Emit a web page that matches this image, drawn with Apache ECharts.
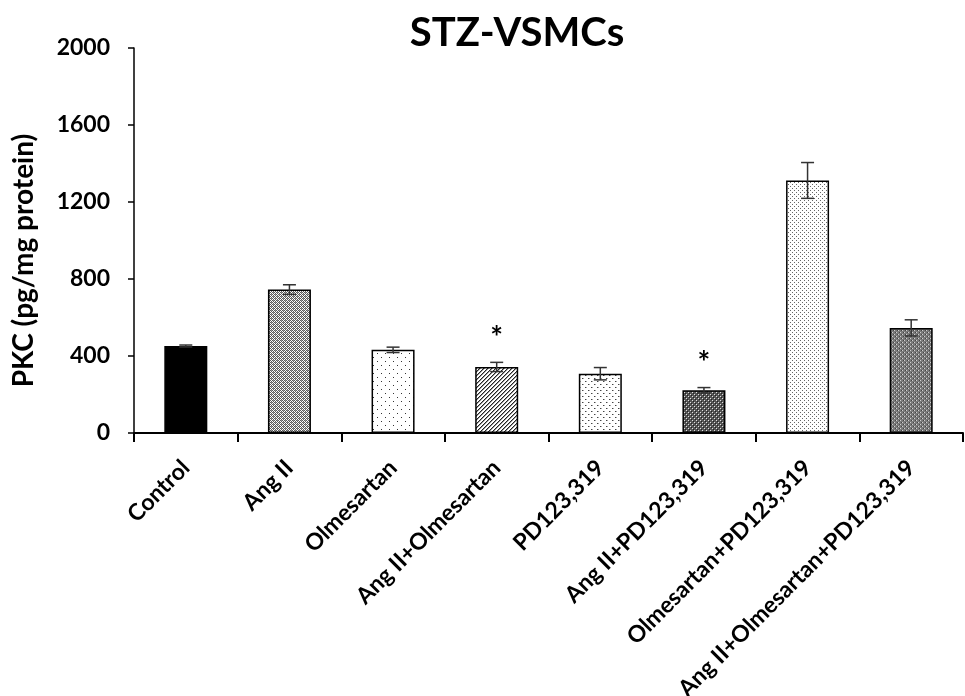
<!DOCTYPE html>
<html>
<head>
<meta charset="utf-8">
<script src="https://cdn.jsdelivr.net/npm/echarts@6/dist/echarts.min.js"></script>
<style>
html,body{margin:0;padding:0;background:#fff;}
#chart{width:965px;height:696px;}
</style>
</head>
<body>
<div id="chart"></div>
<script>
const categories = ['Control', 'Ang II', 'Olmesartan', 'Ang II+Olmesartan', 'PD123,319', 'Ang II+PD123,319', 'Olmesartan+PD123,319', 'Ang II+Olmesartan+PD123,319'];
const means = [452, 745, 432, 343, 308, 222, 1312, 546];
const errors = [5, 25, 14, 24, 32, 14, 93, 42];
const significance = ['', '', '', '*', '', '*', '', ''];
const yTicks = [0, 400, 800, 1200, 1600, 2000];

const FONT = 'Lato';

function pattern(size, draw) {
  const c = document.createElement('canvas');
  c.width = size; c.height = size;
  const ctx = c.getContext('2d');
  draw(ctx, size);
  return { image: c, repeat: 'repeat' };
}
function px(ctx, x, y, col) { ctx.fillStyle = col; ctx.fillRect(x, y, 1, 1); }

const fills = [
  '#000000',
  pattern(4, (ctx) => {
    ctx.fillStyle = '#ffffff'; ctx.fillRect(0, 0, 4, 4);
    ctx.fillStyle = '#5a5a5a';
    ctx.fillRect(0, 0, 1, 1); ctx.fillRect(2, 0, 1, 1); ctx.fillRect(1, 1, 1, 1); ctx.fillRect(3, 1, 1, 1);
    ctx.fillRect(0, 2, 1, 1); ctx.fillRect(2, 2, 1, 1); ctx.fillRect(1, 3, 1, 1); ctx.fillRect(3, 3, 1, 1);
    ctx.fillStyle = '#9a9a9a'; ctx.fillRect(1, 0, 1, 1); ctx.fillRect(3, 2, 1, 1);
  }),
  pattern(8, (ctx) => {
    ctx.fillStyle = '#ffffff'; ctx.fillRect(0, 0, 8, 8);
    px(ctx, 1, 1, '#333'); px(ctx, 5, 5, '#333');
  }),
  pattern(4, (ctx) => {
    ctx.fillStyle = '#ffffff'; ctx.fillRect(0, 0, 4, 4);
    px(ctx, 3, 0, '#222'); px(ctx, 2, 1, '#222'); px(ctx, 1, 2, '#222'); px(ctx, 0, 3, '#222');
    px(ctx, 0, 0, '#999'); px(ctx, 3, 1, '#999'); px(ctx, 2, 2, '#999'); px(ctx, 1, 3, '#999');
  }),
  pattern(6, (ctx) => {
    ctx.fillStyle = '#ffffff'; ctx.fillRect(0, 0, 6, 6);
    px(ctx, 0, 0, '#444'); px(ctx, 3, 3, '#444'); px(ctx, 1, 0, '#aaa'); px(ctx, 4, 3, '#aaa');
  }),
  pattern(4, (ctx) => {
    ctx.fillStyle = '#555555'; ctx.fillRect(0, 0, 4, 4);
    px(ctx, 0, 0, '#e0e0e0'); px(ctx, 2, 2, '#e0e0e0');
    px(ctx, 1, 1, '#222'); px(ctx, 3, 3, '#222');
  }),
  pattern(4, (ctx) => {
    ctx.fillStyle = '#ffffff'; ctx.fillRect(0, 0, 4, 4);
    px(ctx, 0, 0, '#666'); px(ctx, 2, 2, '#666');
  }),
  pattern(4, (ctx) => {
    ctx.fillStyle = '#7a7a7a'; ctx.fillRect(0, 0, 4, 4);
    px(ctx, 0, 0, '#d0d0d0'); px(ctx, 2, 2, '#d0d0d0');
    px(ctx, 1, 2, '#444'); px(ctx, 3, 0, '#444');
  })
];

const chart = echarts.init(document.getElementById('chart'), null, { renderer: 'canvas' });

const option = {
  backgroundColor: '#ffffff',
  animation: false,
  title: {
    text: 'STZ-VSMCs',
    left: 512, top: 8, textAlign: 'center',
    textStyle: { fontFamily: FONT, fontWeight: 'bold', fontSize: 40, color: '#000' }
  },
  grid: { left: 134, right: 2, top: 48, bottom: 263, containLabel: false, outerBoundsMode: 'none' },
  xAxis: {
    type: 'category',
    data: categories,
    axisLine: { lineStyle: { color: '#000', width: 2 } },
    axisTick: { show: true, length: 9, lineStyle: { color: '#000', width: 2 } },
    axisLabel: {
      rotate: 45, interval: 0, margin: 31,
      fontFamily: FONT, fontWeight: 'bold', fontSize: 23, color: '#000'
    }
  },
  yAxis: {
    type: 'value',
    min: 0, max: 2000, interval: 400,
    name: 'PKC (pg/mg protein)',
    nameLocation: 'middle', nameGap: 96, nameRotate: 90,
    nameTextStyle: { fontFamily: FONT, fontWeight: 'bold', fontSize: 28, color: '#000', padding: [0, 40, 0, 0] },
    axisLine: { show: true, lineStyle: { color: '#000', width: 1.5 } },
    axisTick: { show: true, length: 6, lineStyle: { color: '#000', width: 1.5 } },
    splitLine: { show: false },
    axisLabel: {
      margin: 24, fontFamily: FONT, fontWeight: 'bold', fontSize: 23, color: '#000',
      formatter: (v) => yTicks.includes(v) ? String(v) : ''
    }
  },
  series: [
    {
      type: 'bar',
      barWidth: 43,
      data: means.map((m, i) => ({
        value: m,
        itemStyle: { color: fills[i], borderColor: '#000', borderWidth: 1.5 }
      }))
    },
    {
      type: 'custom',
      data: means.map((m, i) => [i, m, errors[i]]),
      z: 10,
      renderItem: function (params, api) {
        const i = api.value(0), m = api.value(1), e = api.value(2);
        const top = api.coord([i, m + e]);
        const bot = api.coord([i, m - e]);
        const cap = 6.5;
        const style = { stroke: '#333', lineWidth: 1.5 };
        const children = [
          { type: 'line', shape: { x1: top[0], y1: top[1], x2: bot[0], y2: bot[1] }, style },
          { type: 'line', shape: { x1: top[0] - cap, y1: top[1], x2: top[0] + cap, y2: top[1] }, style },
          { type: 'line', shape: { x1: bot[0] - cap, y1: bot[1], x2: bot[0] + cap, y2: bot[1] }, style }
        ];
        if (significance[i]) {
          children.push({
            type: 'text',
            style: {
              text: significance[i], x: top[0], y: top[1] - 24,
              textAlign: 'center', textVerticalAlign: 'middle',
              font: 'bold 30px ' + FONT, fill: '#000'
            }
          });
        }
        return { type: 'group', children };
      }
    }
  ]
};
chart.setOption(option);
</script>
</body>
</html>
